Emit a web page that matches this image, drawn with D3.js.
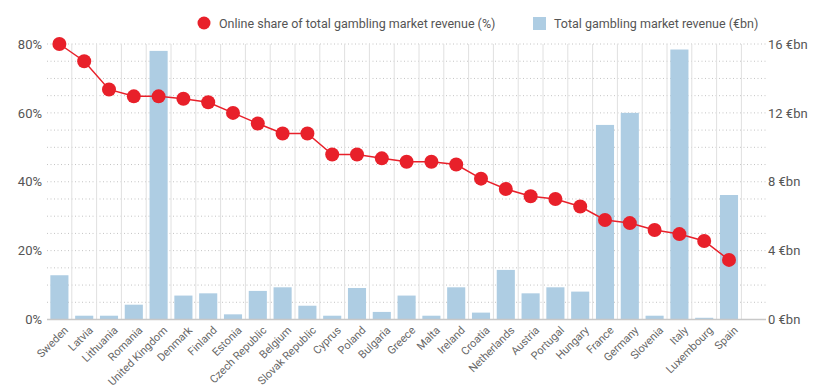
<!DOCTYPE html>
<html>
<head>
<meta charset="utf-8">
<script src="https://cdn.jsdelivr.net/npm/d3@7"></script>
<style>
  body { margin: 0; background: #fff; }
  svg { display: block; }
</style>
</head>
<body>
<svg></svg>
<script>
const countries = ['Sweden', 'Latvia', 'Lithuania', 'Romania', 'United Kingdom', 'Denmark', 'Finland',
  'Estonia', 'Czech Republic', 'Belgium', 'Slovak Republic', 'Cyprus', 'Poland', 'Bulgaria', 'Greece',
  'Malta', 'Ireland', 'Croatia', 'Netherlands', 'Austria', 'Portugal', 'Hungary', 'France', 'Germany',
  'Slovenia', 'Italy', 'Luxembourg', 'Spain'];
// online share of total gambling market revenue (%)
const onlineShare = [80.0, 75.0, 66.8, 64.8, 64.8, 64.1, 63.1, 60.0, 56.9, 54.0, 54.0, 47.9, 47.9,
  46.8, 45.8, 45.8, 45.0, 40.9, 37.9, 35.8, 35.0, 32.8, 28.9, 28.0, 26.0, 24.8, 22.8, 17.3];
// total gambling market revenue (€bn)
const totalRevenue = [2.57, 0.22, 0.22, 0.86, 15.6, 1.39, 1.52, 0.30, 1.66, 1.87, 0.80, 0.22, 1.83,
  0.44, 1.39, 0.22, 1.87, 0.40, 2.88, 1.52, 1.87, 1.62, 11.3, 12.0, 0.22, 15.68, 0.10, 7.23];
const leftTicks = [0, 20, 40, 60, 80];
const rightTicks = [0, 4, 8, 12, 16];

const WIDTH = 820;
const HEIGHT = 390;
const LEFT = 47;
const BAND_END = 741.4;
const RIGHT = 766;
const TOP = 44;
const BOTTOM = 319.5;

const RED = '#e8202a';
const BLUE = '#aecde3';

const svg = d3.select('svg')
  .attr('width', WIDTH)
  .attr('height', HEIGHT)
  .attr('font-family', 'Roboto, sans-serif');

const data = countries.map((c, i) => ({ c, share: onlineShare[i], rev: totalRevenue[i] }));

const xScale = d3.scaleBand()
  .domain(countries)
  .range([LEFT, BAND_END])
  .paddingInner(0.27)
  .paddingOuter(0.135);

const yLeft = d3.scaleLinear().domain([0, 80]).range([BOTTOM, TOP]);
const yRight = d3.scaleLinear().domain([0, 16]).range([BOTTOM, TOP]);

// dotted horizontal grid every 5%
svg.append('g')
  .selectAll('line')
  .data(d3.range(5, 81, 5))
  .enter()
  .append('line')
  .attr('x1', LEFT)
  .attr('x2', RIGHT)
  .attr('y1', d => yLeft(d))
  .attr('y2', d => yLeft(d))
  .attr('stroke', '#c4c4c4')
  .attr('stroke-width', 1)
  .attr('stroke-dasharray', '1,2.5');

// vertical separators between categories (and after the last one)
const step = xScale.step();
const half = step * xScale.paddingInner() / 2;
const seps = countries.slice(1).map(d => xScale(d) - half).concat([xScale(countries[countries.length - 1]) + xScale.bandwidth() + half]);
svg.append('g')
  .selectAll('line')
  .data(seps)
  .enter()
  .append('line')
  .attr('x1', d => d)
  .attr('x2', d => d)
  .attr('y1', TOP)
  .attr('y2', BOTTOM)
  .attr('stroke', '#e0e0e0')
  .attr('stroke-width', 1);

// bars
svg.append('g')
  .selectAll('rect')
  .data(data)
  .enter()
  .append('rect')
  .attr('x', d => xScale(d.c))
  .attr('y', d => yRight(d.rev))
  .attr('width', xScale.bandwidth())
  .attr('height', d => BOTTOM - yRight(d.rev))
  .attr('fill', BLUE);

// baseline
svg.append('line')
  .attr('x1', LEFT)
  .attr('x2', RIGHT)
  .attr('y1', BOTTOM)
  .attr('y2', BOTTOM)
  .attr('stroke', '#c8c8c8')
  .attr('stroke-width', 1.5);

// line + dots
const line = d3.line()
  .x(d => xScale(d.c) + xScale.bandwidth() / 2)
  .y(d => yLeft(d.share));

svg.append('path')
  .datum(data)
  .attr('d', line)
  .attr('fill', 'none')
  .attr('stroke', RED)
  .attr('stroke-width', 1.5);

svg.append('g')
  .selectAll('circle')
  .data(data)
  .enter()
  .append('circle')
  .attr('cx', d => xScale(d.c) + xScale.bandwidth() / 2)
  .attr('cy', d => yLeft(d.share))
  .attr('r', 7)
  .attr('fill', RED);

// left axis
const leftAxis = d3.axisLeft(yLeft).tickValues(leftTicks).tickSize(0).tickPadding(0).tickFormat(d => d + '%');
const gl = svg.append('g')
  .attr('transform', `translate(${LEFT - 5}, 0)`)
  .call(leftAxis);
gl.select('.domain').remove();
gl.selectAll('text').attr('font-size', 13).attr('fill', '#555').attr('font-family', 'Roboto, sans-serif');

// right axis
const rightAxis = d3.axisRight(yRight).tickValues(rightTicks).tickSize(0).tickPadding(0).tickFormat(d => d + ' €bn');
const gr = svg.append('g')
  .attr('transform', `translate(${RIGHT + 2}, 0)`)
  .call(rightAxis);
gr.select('.domain').remove();
gr.selectAll('text').attr('font-size', 13).attr('fill', '#555').attr('font-family', 'Roboto, sans-serif');

// x axis labels
const xAxis = d3.axisBottom(xScale).tickSize(0).tickPadding(0);
const gx = svg.append('g')
  .attr('transform', `translate(0, ${BOTTOM + 6})`)
  .call(xAxis);
gx.select('.domain').remove();
gx.selectAll('text')
  .attr('font-size', 11)
  .attr('fill', '#666')
  .attr('font-family', 'Roboto, sans-serif')
  .attr('text-anchor', 'end')
  .attr('dy', '0.7em')
  .attr('transform', 'translate(4, 0) rotate(-45)');

// legend
const legend = svg.append('g').attr('font-size', 12.5).attr('fill', '#555');
legend.append('circle')
  .attr('cx', 204)
  .attr('cy', 23)
  .attr('r', 6.5)
  .attr('fill', RED);
legend.append('text')
  .attr('x', 219)
  .attr('y', 27.5)
  .text('Online share of total gambling market revenue (%)');
legend.append('rect')
  .attr('x', 533)
  .attr('y', 17)
  .attr('width', 13)
  .attr('height', 13)
  .attr('fill', BLUE);
legend.append('text')
  .attr('x', 554)
  .attr('y', 27.5)
  .text('Total gambling market revenue (€bn)');
</script>
</body>
</html>
